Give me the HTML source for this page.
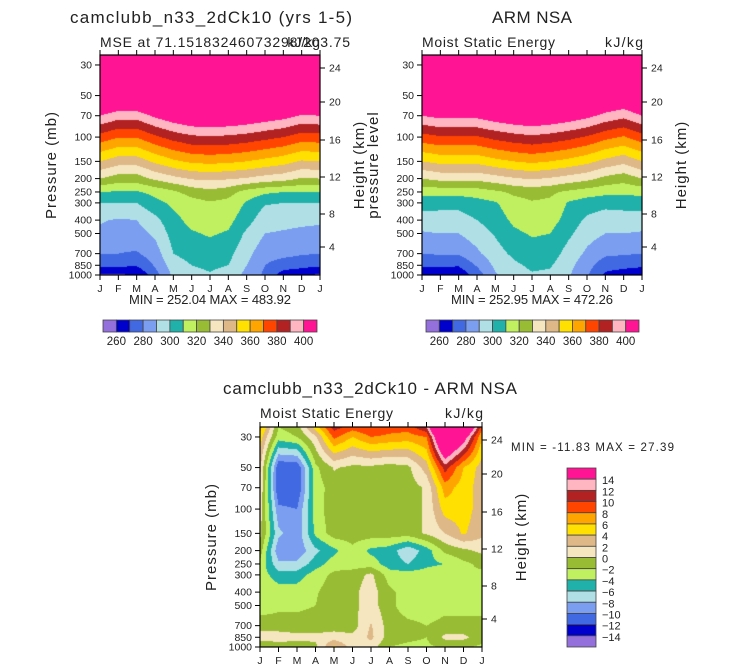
<!DOCTYPE html>
<html><head><meta charset="utf-8">
<style>
html,body{margin:0;padding:0;background:#fff;}
#wrap{position:relative;width:733px;height:672px;overflow:hidden;}
canvas{position:absolute;}
svg{position:absolute;left:0;top:0;}
text{font-family:"Liberation Sans",sans-serif;fill:#222;}
</style></head>
<body>
<div id="wrap">
<canvas id="c1" width="220" height="220" style="left:100px;top:55px"></canvas>
<canvas id="c2" width="220" height="220" style="left:422px;top:55px"></canvas>
<canvas id="c3" width="222" height="220" style="left:260px;top:427px"></canvas>
<svg id="ov" width="733" height="672"></svg>
</div>
<script>
const levels=[25,30,50,70,100,150,200,250,300,400,500,700,850,1000];
const monthLabels=["J","F","M","A","M","J","J","A","S","O","N","D","J"];
const pTickLabels=[30,50,70,100,150,200,250,300,400,500,700,850,1000];
const zTickLabels=[24,20,16,12,8,4];
const zTickOffsets=[13,47,85,122,159,192];
const mseBounds=[260,270,280,290,300,310,320,330,340,350,360,370,380,390,400];
const mseBarLabels=[260,280,300,320,340,360,380,400];
const diffBounds=[-14,-12,-10,-8,-6,-4,-2,0,2,4,6,8,10,12,14];
const colors=["#9370DB","#0000CD","#4169E1","#7B9EF0","#B0E0E6","#20B2AA","#C0F060","#98BC34","#F5E6C0","#DEB887","#FFE000","#FFA500","#FF4500","#B22222","#FFB6C1","#FF1493"];
const modelMSE=[
[445,445,445,445,445,445,445,445,445,445,445,445,445],
[440,440,440,440,440,440,440,440,440,440,440,440,440],
[420,418,418,421,424,427,428,427,425,423,422,420,420],
[400,394.5,394.5,402,408,412,413,412,410,407,404,399,400],
[376,370.5,370.5,378,384,388,389,388,386,383,380,375,376],
[350,344.5,344.5,352,358,362,363,362,360,357,354,349,350],
[330,325,325,332,337,341,342,341,339,336,334,329,330],
[310,309,309,313,318,324,327,324,316,312,310,310,310],
[300,300,300,307,312,316,319,317,309,301,300,300,300],
[291,289,290,297,307,313,314,313,304,294,293,292,291],
[288,285,286,292,304,309,311,309,298,290,289,288,288],
[280,280,279,285,300,304,306,303,293,284,283,281,280],
[272,272,271,281,295,300,302,300,290,280,275,273,272],
[258,259,260,276,292,297,299,296,287,278,265,263,258]];
const armMSE=[
[445,445,445,445,445,445,445,445,445,445,445,445,445],
[440,440,440,440,440,440,440,440,440,440,440,440,440],
[420,422,422,422,425,428,430,428,425,422,417,414,420],
[400,403,403,403,407,410,412,410,407,403,397,393,400],
[376,379,379,379,383,386,388,386,383,379,373,369,376],
[350,353,353,353,357,360,362,360,357,353,347,343,350],
[330,333,333,333,336,339,341,339,336,333,327,324,330],
[313,314,314,315,318,322,324,322,318,315,313,312,313],
[305,303,303,306,309,316,319,318,309,305,303,304,305],
[295,296,296,300,305,312,315,314,306,298,295,295,295],
[289,290,290,295,301,308,311,310,302,294,290,290,289],
[280,281,281,288,296,302,306,305,296,288,282,281,280],
[272,272,271,281,292,298,302,301,293,284,274,273,272],
[262,261,262,275,289,295,299,298,291,281,268,265,262]];
const diffMSE=[
[7,-2,-1,5,11,9,10,9,9,12,27,22,9],
[5,-3,-2,1.5,8.5,6,8,7.5,7,8,22,16,6],
[2.5,-11.8,-11.8,-2.5,0.2,-0.5,-0.5,-1,-0.5,3,11,6,3],
[2,-12,-12,-3,-1,-1,-1,-1,-1,0.3,7,5,3],
[1,-9.5,-10,-3,-0.7,-1,-1,-1,-1,0.3,5,5,3],
[0.5,-7.5,-9.5,-3.5,-1,-1,-1,-1,-1,0.3,2,4.3,2.5],
[-1,-9.5,-9.5,-6.5,-4.5,-2.5,-4.5,-5,-7.5,-5,-1.5,-0.5,0.5],
[-2.5,-7.5,-7.5,-5,-3,-3,-3,-5,-6,-4.5,-4,-2.5,-1.5],
[-3,-5,-5,-3,-1.5,-1,0.5,-3,-3,-3,-2.5,-2,-2.5],
[-3,-3,-3,-2.2,-1,-0.5,1,-1.5,-3,-3,-2.5,-2.5,-2.5],
[-3,-2.5,-2.5,-2,-1,-0.5,1,-1.5,-3,-3,-2.5,-2.5,-2.5],
[-1,-1,-1,-1,-1,-1,2.2,-1,-1.5,-2,-1.5,-1.5,-1.5],
[1,1,0.5,0.5,1,0.5,2.5,-1,-1.5,-2,0.5,0.5,-1],
[-2,-1,-1,-0.5,4.5,1,1,-2,-2.5,-2.5,-1.5,-1.5,-2.5]];

const PTOP=25.4,PBOT=1000;
function yFrac(p){return Math.log(p/PTOP)/Math.log(PBOT/PTOP);}
function hex(c){return [parseInt(c.substr(1,2),16),parseInt(c.substr(3,2),16),parseInt(c.substr(5,2),16)];}
const rgb=colors.map(hex);
function bin(v,b){let k=0;while(k<b.length&&v>=b[k])k++;return k;}
function drawField(id,grid,bounds){
  const cv=document.getElementById(id),ctx=cv.getContext('2d');
  const W=cv.width,H=cv.height,img=ctx.createImageData(W,H);
  const ly=levels.map(p=>yFrac(Math.max(p,PTOP)));
  for(let y=0;y<H;y++){
    const fy=(y+0.5)/H;
    let i=0;while(i<ly.length-2&&fy>ly[i+1])i++;
    let t=(fy-ly[i])/(ly[i+1]-ly[i]);t=Math.max(0,Math.min(1,t));
    for(let x=0;x<W;x++){
      const m=(x+0.5)/W*12;let j=Math.min(11,Math.floor(m));const f=m-j;
      const a=grid[i][j]*(1-f)+grid[i][j+1]*f;
      const b=grid[i+1][j]*(1-f)+grid[i+1][j+1]*f;
      const v=a*(1-t)+b*t;
      const c=rgb[bin(v,bounds)];const o=(y*W+x)*4;
      img.data[o]=c[0];img.data[o+1]=c[1];img.data[o+2]=c[2];img.data[o+3]=255;
    }
  }
  ctx.putImageData(img,0,0);
}
drawField('c1',modelMSE,mseBounds);
drawField('c2',armMSE,mseBounds);
drawField('c3',diffMSE,diffBounds);

const NS="http://www.w3.org/2000/svg";
const ov=document.getElementById('ov');
function el(tag,attrs,txt){const e=document.createElementNS(NS,tag);for(const k in attrs)e.setAttribute(k,attrs[k]);if(txt!==undefined)e.textContent=txt;ov.appendChild(e);return e;}
function txt(x,y,s,size,anchor,name,extra){
  const e=el('text',Object.assign({x:x,y:y,'font-size':size,'text-anchor':anchor||'start'},extra||{}),s);
  
  
  return e;
}
function axes(x0,y0,w,h,pfx,leftLab,rightLab){
  const fr=el('rect',{x:x0,y:y0,width:w,height:h,fill:'none',stroke:'#000','stroke-width':1.2});
  
  
  monthLabels.forEach((m,k)=>{
    const x=x0+w*k/12;
    const t1=el('line',{x1:x,x2:x,y1:y0+h,y2:y0+h+5,stroke:'#000'});
    
    
    const t2=el('line',{x1:x,x2:x,y1:y0,y2:y0-5,stroke:'#000'});
    
    
    txt(x,y0+h+17,m,10.5,'middle',pfx+'-month-label');
  });
  pTickLabels.forEach(p=>{
    const y=y0+h*yFrac(p);
    const t=el('line',{x1:x0,x2:x0-5,y1:y,y2:y,stroke:'#000'});
    
    
    txt(x0-8,y+3.5,String(p),10.5,'end',pfx+'-pressure-label');
  });
  zTickLabels.forEach((z,k)=>{
    const y=y0+zTickOffsets[k];
    const t=el('line',{x1:x0+w,x2:x0+w+5,y1:y,y2:y,stroke:'#000'});
    
    
    txt(x0+w+9,y+3.5,String(z),10.5,'start',pfx+'-height-label');
  });
  const cy=y0+h/2;
  txt(0,0,leftLab,15,'middle',pfx+'-y-axis-title',{transform:`translate(${x0-44},${cy}) rotate(-90)`,fill:'#555','letter-spacing':1});
  txt(0,0,rightLab,15,'middle',pfx+'-y2-axis-title',{transform:`translate(${x0+w+44},${cy}) rotate(-90)`,fill:'#555','letter-spacing':1});
}
axes(100,55,220,220,'model','Pressure (mb)','Height (km)');
axes(422,55,220,220,'arm','pressure level','Height (km)');
axes(260,427,222,220,'diff','Pressure (mb)','Height (km)');

txt(211,23,'camclubb_n33_2dCk10 (yrs 1-5)',17,'middle','model-title',{textLength:282});
txt(100,47,'MSE at 71.15183246073298/203.75',14,'start','model-subtitle',{textLength:250});
txt(320,47,'kJ/kg',14,'end','model-units');
txt(532,23,'ARM NSA',17,'middle','arm-title',{textLength:80});
txt(422,47,'Moist Static Energy',14,'start','arm-subtitle',{textLength:133});
txt(643,47,'kJ/kg',14,'end','arm-units',{textLength:38});
txt(370,394,'camclubb_n33_2dCk10 - ARM NSA',17,'middle','diff-title',{textLength:294});
txt(260,418,'Moist Static Energy',14,'start','diff-subtitle',{textLength:133});
txt(483,418,'kJ/kg',14,'end','diff-units',{textLength:38});
txt(210,304,'MIN = 252.04 MAX = 483.92',13,'middle','model-minmax',{textLength:162});
txt(532,304,'MIN = 252.95 MAX = 472.26',13,'middle','arm-minmax',{textLength:162});
txt(511,451,'MIN = -11.83 MAX =  27.39',11.5,'start','diff-minmax',{'xml:space':'preserve',textLength:163});

function hbar(x0,y0,w,h,pfx){
  const bw=w/16;
  colors.forEach((c,k)=>{
    const r=el('rect',{x:x0+k*bw,y:y0,width:bw,height:h,fill:c,stroke:'#444','stroke-width':0.8});
    
    
  });
  mseBarLabels.forEach(v=>{
    const k=mseBounds.indexOf(v)+1;
    txt(x0+k*bw,y0+h+13,String(v),11.5,'middle',pfx+'-colorbar-label');
  });
}
hbar(103,320,214,12,'model');
hbar(426,320,213,12,'arm');
(function(){
  const x0=567,y0=468,w=29,h=179,bh=h/16;
  colors.slice().reverse().forEach((c,k)=>{
    const r=el('rect',{x:x0,y:y0+k*bh,width:w,height:bh,fill:c,stroke:'#444','stroke-width':0.8});
    
    
  });
  diffBounds.slice().reverse().forEach((v,k)=>{
    txt(x0+w+6,y0+(k+1)*bh+5,v<0?'\u2212'+Math.abs(v):String(v),11,'start','diff-colorbar-label');
  });
})();
</script>
</body></html>
